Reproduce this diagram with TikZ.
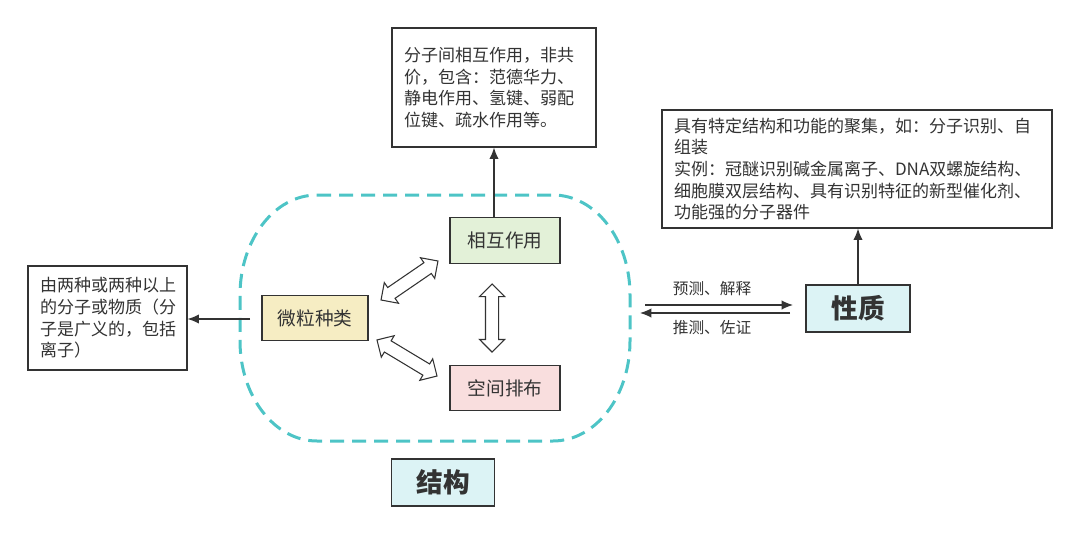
\documentclass[tikz,border=0pt]{standalone}
\usepackage{fontspec}
\setmainfont{Noto Sans CJK SC}
\usetikzlibrary{arrows.meta,shapes.arrows}
\definecolor{txtgray}{RGB}{51,51,51}
\definecolor{dashteal}{RGB}{77,196,198}
\definecolor{fillgreen}{RGB}{227,241,216}
\definecolor{fillyellow}{RGB}{246,237,195}
\definecolor{fillpink}{RGB}{249,222,222}
\definecolor{fillcyan}{RGB}{220,243,245}
\begin{document}
\begin{tikzpicture}[x=0.75pt,y=-0.75pt]
	\tikzstyle{every node}+=[text=txtgray]
	\tikzstyle{note}=[draw=txtgray, line width=0.9pt, fill=white, align=left, inner xsep=9pt, inner ysep=0pt, font=\fontsize{12.75pt}{16.2pt}\selectfont]
	\tikzstyle{part}=[draw=txtgray, line width=0.9pt, minimum width=82.5pt, minimum height=34pt, inner sep=0pt, font=\fontsize{14pt}{16pt}\selectfont]
	\tikzstyle{head}=[draw=txtgray, line width=1pt, fill=fillcyan, minimum width=77pt, minimum height=35.25pt, inner sep=0pt, font=\fontsize{20pt}{22pt}\selectfont\bfseries]
	\tikzstyle{link}=[draw=txtgray, line width=0.9pt, -{Latex[length=8.5pt,width=7pt]}]
	\tikzstyle{swap}=[double arrow, draw=txtgray, line width=0.8pt, fill=white, inner xsep=0pt, inner ysep=4.5pt, minimum width=0pt, double arrow head extend=4.5pt]
	\useasboundingbox (0,0) rectangle (1080,535);
	\draw [dashteal, line width=2.25pt, dash pattern=on 10.5pt off 6pt] (317,195) -- (553,195)
		arc [start angle=-90, end angle=0, x radius=77, y radius=100] -- (630,341)
		arc [start angle=0, end angle=90, x radius=77, y radius=100] -- (317,441)
		arc [start angle=90, end angle=180, x radius=77, y radius=100] -- (240,295)
		arc [start angle=180, end angle=270, x radius=77, y radius=100];
	\node [note, text width=135pt, minimum height=89.25pt] (fenzi) at (494,87.5) {分子间相互作用，非共\\价，包含：范德华力、\\静电作用、氢键、弱配\\位键、疏水作用等。};
	\node [note, text width=274.5pt, minimum height=88.5pt] (shili) at (857,169) {具有特定结构和功能的聚集，如：分子识别、自\\组装\\实例：冠醚识别碱金属离子、DNA双螺旋结构、\\细胞膜双层结构、具有识别特征的新型催化剂、\\功能强的分子器件};
	\node [note, text width=101.25pt, minimum height=78pt] (zucheng) at (107.5,318) {由两种或两种以上\\的分子或物质（分\\子是广义的，包括\\离子）};
	\node [part, fill=fillgreen] (xianghu) at (505,240.5) {相互作用};
	\node [part, fill=fillyellow, minimum width=79.5pt] (weili) at (315,318) {微粒种类};
	\node [part, fill=fillpink] (kongjian) at (505,388) {空间排布};
	\node [head] (jiegou) at (443,482.5) {结构};
	\node [head, minimum width=78pt] (xingzhi) at (858,308.5) {性质};
	\node [swap, minimum height=51.75pt, rotate=34.4] (swapa) at (409.5,280.5) {};
	\node [swap, minimum height=52.5pt, rotate=-31] (swapb) at (407,358) {};
	\node [swap, minimum height=51pt, rotate=90] (swapc) at (492,318) {};
	\draw [link] (xianghu.north -| fenzi.south) -- (fenzi.south);
	\coordinate (lstart) at (250,319);
	\draw [link] (lstart) -- (lstart -| zucheng.east);
	\draw [link] (xingzhi.north) -- (xingzhi.north |- shili.south);
	\coordinate (pa) at (645,305);
	\coordinate (pb) at (793,305);
	\coordinate (qa) at (790,313);
	\coordinate (qb) at (640,313);
	\draw [link] (pa) -- (pb);
	\draw [link] (qa) -- (qb);
	\node [font=\fontsize{11.75pt}{14pt}\selectfont] (yuce) at (712,289) {预测、解释};
	\node [font=\fontsize{11.75pt}{14pt}\selectfont] (tuice) at (712,328) {推测、佐证};
\end{tikzpicture}
\end{document}
